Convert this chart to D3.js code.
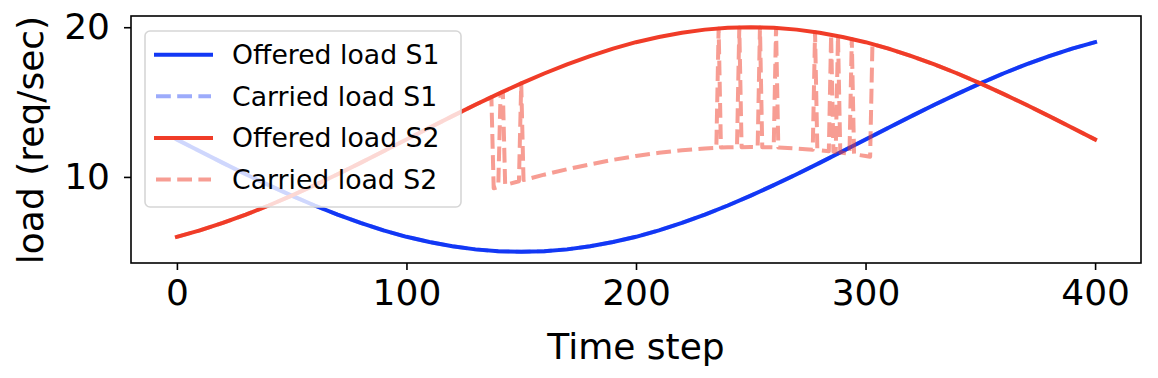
<!DOCTYPE html>
<html>
<head>
<meta charset="utf-8">
<script src="https://cdn.jsdelivr.net/npm/d3@7/dist/d3.min.js"></script>
<style>
body { margin: 0; background: #fff; }
svg { display: block; font-family: "DejaVu Sans", sans-serif; }
</style>
</head>
<body>
<script>
// offered loads, sampled every 10 time steps
var timeSteps = [0, 10, 20, 30, 40, 50, 60, 70, 80, 90, 100, 110, 120, 130, 140, 150, 160, 170, 180, 190, 200,
    210, 220, 230, 240, 250, 260, 270, 280, 290, 300, 310, 320, 330, 340, 350, 360, 370, 380, 390, 400];

var offeredS1 = [12.50, 11.72, 10.94, 10.18, 9.45, 8.75, 8.09, 7.48, 6.93, 6.43, 6.00, 5.65, 5.37, 5.16, 5.04, 5.00,
    5.04, 5.16, 5.37, 5.65, 6.00, 6.43, 6.93, 7.48, 8.09, 8.75, 9.45, 10.18, 10.94, 11.72, 12.50, 13.28, 14.06,
    14.82, 15.55, 16.25, 16.91, 17.52, 18.07, 18.57, 19.00];

// S1 is carried in full, so it sits under the offered line
var carriedS1 = [12.50, 11.72, 10.94, 10.18, 9.45, 8.75, 8.09, 7.48, 6.93, 6.43, 6.00, 5.65, 5.37, 5.16, 5.04, 5.00,
    5.04, 5.16, 5.37, 5.65, 6.00, 6.43, 6.93, 7.48, 8.09, 8.75, 9.45, 10.18, 10.94, 11.72, 12.50, 13.28, 14.06,
    14.82, 15.55, 16.25, 16.91, 17.52, 18.07, 18.57, 19.00];

var offeredS2 = [6.00, 6.43, 6.93, 7.48, 8.09, 8.75, 9.45, 10.18, 10.94, 11.72, 12.50, 13.28, 14.06, 14.82, 15.55,
    16.25, 16.91, 17.52, 18.07, 18.57, 19.00, 19.35, 19.63, 19.84, 19.96, 20.00, 19.96, 19.84, 19.63, 19.35, 19.00,
    18.57, 18.07, 17.52, 16.91, 16.25, 15.55, 14.82, 14.06, 13.28, 12.50];

// carried S2 drops to the throttled level and jumps back at these steps
var carriedS2Steps = [0, 10, 20, 30, 40, 50, 60, 70, 80, 90, 100, 110, 120, 130, 137, 138, 140, 141, 142, 143,
    149, 150, 151, 160, 170, 180, 190, 200, 210, 220, 230, 235, 236, 237, 240, 244, 245, 246, 250, 253, 254, 255,
    260, 261, 262, 270, 277, 278, 279, 284, 285, 286, 287, 288, 289, 293, 294, 295, 300, 302, 303, 310, 320, 330,
    340, 350, 360, 370, 380, 390, 400];

var carriedS2 = [6.00, 6.43, 6.93, 7.48, 8.09, 8.75, 9.45, 10.18, 10.94, 11.72, 12.50, 13.28, 14.06, 14.82, 15.33,
    9.24, 9.33, 15.62, 15.69, 9.46, 9.71, 16.25, 9.79, 10.15, 10.51, 10.84, 11.14, 11.40, 11.61, 11.78, 11.90,
    11.94, 19.92, 11.96, 11.98, 11.99, 19.99, 11.99, 12.00, 11.99, 19.99, 11.99, 11.98, 19.95, 11.96, 11.90,
    11.82, 19.68, 11.79, 11.71, 19.50, 11.68, 11.66, 19.41, 11.63, 11.55, 19.22, 11.51, 11.40, 11.35, 18.87,
    18.57, 18.07, 17.52, 16.91, 16.25, 15.55, 14.82, 14.06, 13.28, 12.50];

var xTicks = [0, 100, 200, 300, 400];
var yTicks = [10, 20];
var legendLabels = ['Offered load S1', 'Carried load S1', 'Offered load S2', 'Carried load S2'];

var width = 1158,
    height = 378;

var blue = '#1238f5',
    red = '#f03c28';

var svg = d3.select('body')
    .append('svg')
    .attr('width', width)
    .attr('height', height);

var x = d3.scaleLinear().domain([-20, 420]).range([131, 1141]);
var y = d3.scaleLinear().domain([4.25, 20.75]).range([263, 16]);

var line = d3.line()
    .x(d => x(d[0]))
    .y(d => y(d[1]));

function pairs(xs, ys) {
    return xs.map((t, i) => [t, ys[i]]);
}

var series = [
    {data: pairs(timeSteps, offeredS1), color: blue, opacity: 1, dash: null},
    {data: pairs(timeSteps, carriedS1), color: blue, opacity: 0.42, dash: '14.8,6.4'},
    {data: pairs(timeSteps, offeredS2), color: red, opacity: 1, dash: null},
    {data: pairs(carriedS2Steps, carriedS2), color: red, opacity: 0.5, dash: '14.8,6.4'}
];

svg.append('g')
    .attr('class', 'lines')
    .selectAll('path')
    .data(series).enter()
    .append('path')
    .attr('d', d => line(d.data))
    .attr('fill', 'none')
    .attr('stroke', d => d.color)
    .attr('stroke-opacity', d => d.opacity)
    .attr('stroke-width', 4)
    .attr('stroke-linejoin', 'round')
    .attr('stroke-linecap', d => d.dash ? 'butt' : 'square')
    .attr('stroke-dasharray', d => d.dash);

// axes
var xAxis = svg.append('g')
    .attr('transform', 'translate(0,263)')
    .call(d3.axisBottom(x).tickValues(xTicks).tickSize(7).tickPadding(9).tickSizeOuter(0));

var yAxis = svg.append('g')
    .attr('transform', 'translate(131,0)')
    .call(d3.axisLeft(y).tickValues(yTicks).tickSize(7).tickPadding(14).tickSizeOuter(0));

[xAxis, yAxis].forEach(function(g) {
    g.select('.domain').remove();
    g.selectAll('line').attr('stroke', '#000').attr('stroke-width', 1.6);
    g.selectAll('text')
        .attr('fill', '#000')
        .style('font-family', '"DejaVu Sans", sans-serif')
        .style('font-size', '36px');
});

svg.append('rect')
    .attr('x', 131)
    .attr('y', 16)
    .attr('width', 1010)
    .attr('height', 247)
    .attr('fill', 'none')
    .attr('stroke', '#000')
    .attr('stroke-width', 1.6);

svg.append('text')
    .attr('x', 636)
    .attr('y', 359)
    .attr('text-anchor', 'middle')
    .style('font-size', '36px')
    .text('Time step');

svg.append('text')
    .attr('transform', 'translate(43,140) rotate(-90)')
    .attr('text-anchor', 'middle')
    .style('font-size', '36px')
    .text('load (req/sec)');

// legend
var legend = svg.append('g').attr('class', 'legend');

legend.append('rect')
    .attr('x', 145)
    .attr('y', 31)
    .attr('width', 316)
    .attr('height', 176)
    .attr('rx', 5)
    .attr('fill', '#fff')
    .attr('fill-opacity', 0.8)
    .attr('stroke', '#d6d6d6')
    .attr('stroke-width', 1.6);

var rows = legend.selectAll('g.row')
    .data(legendLabels).enter()
    .append('g')
    .attr('class', 'row')
    .attr('transform', (d, i) => 'translate(0,' + (54.7 + i * 41.6) + ')');

rows.append('line')
    .attr('x1', 156)
    .attr('x2', 211)
    .attr('stroke', (d, i) => series[i].color)
    .attr('stroke-opacity', (d, i) => series[i].opacity)
    .attr('stroke-width', 4)
    .attr('stroke-linecap', (d, i) => series[i].dash ? 'butt' : 'square')
    .attr('stroke-dasharray', (d, i) => series[i].dash);

rows.append('text')
    .attr('x', 232)
    .attr('y', 9.5)
    .style('font-size', '26.7px')
    .text(d => d);
</script>
</body>
</html>
